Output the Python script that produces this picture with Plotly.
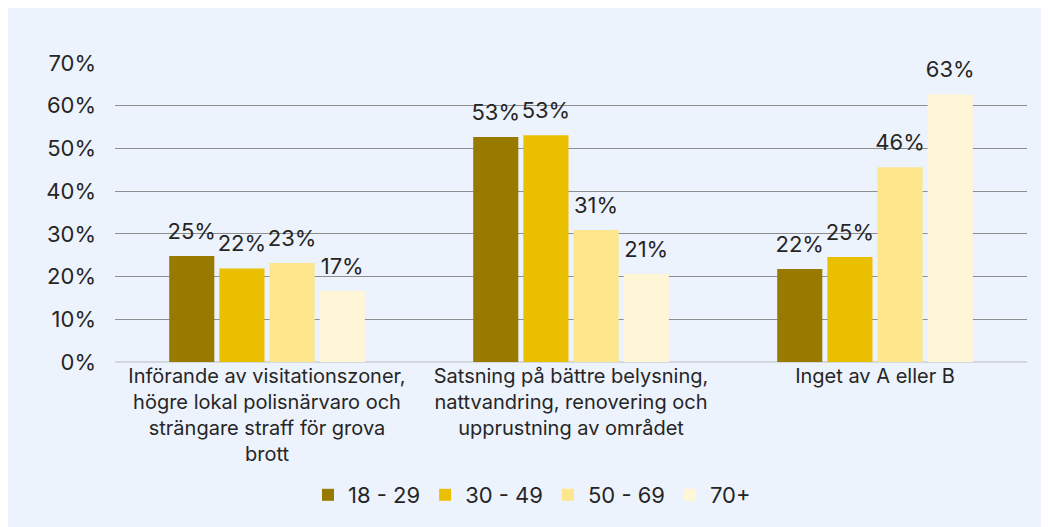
import plotly.graph_objects as go

categories = [
    "Införande av visitationszoner,<br>högre lokal polisnärvaro och<br>strängare straff för grova<br>brott",
    "Satsning på bättre belysning,<br>nattvandring, renovering och<br>upprustning av området",
    "Inget av A eller B",
]
series_names = ["18 - 29", "30 - 49", "50 - 69", "70+"]
values_18_29 = [24.8, 52.7, 21.8]
values_30_49 = [21.9, 53.1, 24.6]
values_50_69 = [23.2, 30.9, 45.6]
values_70 = [16.6, 20.6, 62.6]
colors = ["#987A00", "#E9BF00", "#FDE68C", "#FEF6D6"]
y_ticks = [0, 10, 20, 30, 40, 50, 60, 70]
y_tick_labels = ["0%", "10%", "20%", "30%", "40%", "50%", "60%", "70%"]

FONT = "Inter"
TXT = "#262626"
BG = "#EDF3FC"

fig = go.Figure()
all_vals = [values_18_29, values_30_49, values_50_69, values_70]
for i, (name, vals, col) in enumerate(zip(series_names, all_vals, colors)):
    fig.add_trace(go.Bar(
        name=name, x=categories, y=vals, marker=dict(color=col, line=dict(width=0)),
        offsetgroup=str(i), hoverinfo="skip",
    ))
for i, (name, vals) in enumerate(zip(series_names, all_vals)):
    fig.add_trace(go.Scatter(
        x=categories, y=vals, mode="markers+text",
        marker=dict(size=17, color="rgba(0,0,0,0)"),
        text=[f"{v:.0f}%" for v in vals], textposition="top center",
        textfont=dict(family=FONT, size=22, color=TXT),
        offsetgroup=str(i), showlegend=False, hoverinfo="skip", cliponaxis=False,
    ))

W, H = 1041, 519
ml, mr, mt, mb = 107, 22, 55, 164
pw, ph = W - ml - mr, H - mt - mb

fig.update_layout(
    width=W, height=H,
    margin=dict(l=ml, r=mr, t=mt, b=mb),
    paper_bgcolor=BG, plot_bgcolor=BG,
    barmode="group", bargap=0.34, bargroupgap=0.1,
    scattermode="group", scattergap=0.34,
    font=dict(family=FONT, color=TXT),
    showlegend=True,
    legend=dict(orientation="h", x=(524 - ml) / pw, xanchor="center",
                y=(mt + ph - 487) / ph, yanchor="middle",
                font=dict(family=FONT, size=22, color=TXT),
                itemwidth=30, bgcolor="rgba(0,0,0,0)"),
    xaxis=dict(tickfont=dict(family=FONT, size=20, color=TXT), showline=False,
               ticks="", showgrid=False),
    yaxis=dict(range=[0, 70], tickvals=y_ticks, ticktext=y_tick_labels,
               tickfont=dict(family=FONT, size=22, color=TXT),
               showgrid=True, gridcolor="#8E8E8E", gridwidth=1,
               zeroline=True, zerolinecolor="#D4D8DE", zerolinewidth=2,
               ticks="", ticklabelstandoff=18, showline=False),
)

fig.write_html("out.html")
